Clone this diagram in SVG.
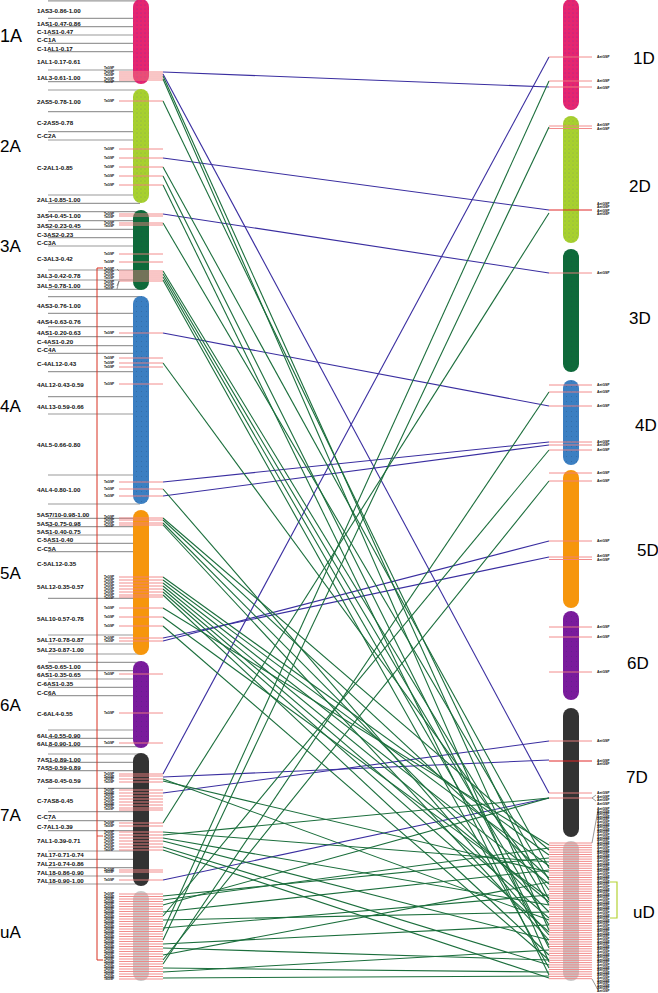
<svg xmlns="http://www.w3.org/2000/svg" width="658" height="993" viewBox="0 0 658 993">
<defs>
<style>
.seg{font-family:"Liberation Sans",Arial,sans-serif;font-size:6.2px;font-weight:bold;fill:#111}
.chr{font-family:"Liberation Sans",Arial,sans-serif;font-size:17px;fill:#000}
.tl{font-family:"Liberation Sans",Arial,sans-serif;font-size:3.2px;font-weight:bold;fill:#111}
.tr{font-family:"Liberation Sans",Arial,sans-serif;font-size:3.4px;font-weight:bold;fill:#111}
.gl{stroke:#9a9a9a;stroke-width:1.2}
.tk{stroke:#f08080;stroke-width:0.9}
.tkd{stroke:#e02828;stroke-width:1}
.b{stroke:#3a2ea0;stroke-width:1.1;fill:none}
.g{stroke:#1b6e3c;stroke-width:1.1;fill:none}
.ld{stroke:#555;stroke-width:0.6;fill:none}
</style>
<pattern id="dots" width="4" height="4" patternUnits="userSpaceOnUse"><circle cx="1" cy="1" r="0.45" fill="#3434c8"/><circle cx="3" cy="3" r="0.35" fill="#5a5ad8"/></pattern>
<pattern id="dotsd" width="5" height="5" patternUnits="userSpaceOnUse"><circle cx="1.5" cy="1.5" r="0.4" fill="#223355" opacity="0.6"/></pattern>
</defs>
<rect width="658" height="993" fill="#fff"/>

<g id="gray-lines">
<line class="gl" x1="48" x2="140" y1="0.8" y2="0.8"/><line class="gl" x1="48" x2="140" y1="18.3" y2="18.3"/><line class="gl" x1="48" x2="140" y1="26.7" y2="26.7"/><line class="gl" x1="48" x2="140" y1="35" y2="35"/><line class="gl" x1="48" x2="140" y1="43.3" y2="43.3"/><line class="gl" x1="48" x2="140" y1="51.7" y2="51.7"/><line class="gl" x1="48" x2="140" y1="70" y2="70"/><line class="gl" x1="48" x2="140" y1="81.7" y2="81.7"/><line class="gl" x1="48" x2="140" y1="90" y2="90"/><line class="gl" x1="48" x2="140" y1="111.7" y2="111.7"/><line class="gl" x1="48" x2="140" y1="131.7" y2="131.7"/><line class="gl" x1="48" x2="140" y1="140" y2="140"/><line class="gl" x1="48" x2="140" y1="195" y2="195"/><line class="gl" x1="48" x2="140" y1="203.3" y2="203.3"/><line class="gl" x1="48" x2="140" y1="211.7" y2="211.7"/><line class="gl" x1="48" x2="140" y1="220.7" y2="220.7"/><line class="gl" x1="48" x2="140" y1="229.3" y2="229.3"/><line class="gl" x1="48" x2="140" y1="237.7" y2="237.7"/><line class="gl" x1="48" x2="140" y1="246" y2="246"/><line class="gl" x1="48" x2="140" y1="270" y2="270"/><line class="gl" x1="48" x2="140" y1="280" y2="280"/><line class="gl" x1="48" x2="140" y1="289.3" y2="289.3"/><line class="gl" x1="48" x2="140" y1="296.7" y2="296.7"/><line class="gl" x1="48" x2="140" y1="313.3" y2="313.3"/><line class="gl" x1="48" x2="140" y1="326.7" y2="326.7"/><line class="gl" x1="48" x2="140" y1="336.7" y2="336.7"/><line class="gl" x1="48" x2="140" y1="345.7" y2="345.7"/><line class="gl" x1="48" x2="140" y1="353.3" y2="353.3"/><line class="gl" x1="48" x2="140" y1="371.7" y2="371.7"/><line class="gl" x1="48" x2="140" y1="396.7" y2="396.7"/><line class="gl" x1="48" x2="140" y1="414" y2="414"/><line class="gl" x1="48" x2="140" y1="475" y2="475"/><line class="gl" x1="48" x2="140" y1="504" y2="504"/><line class="gl" x1="48" x2="140" y1="518.3" y2="518.3"/><line class="gl" x1="48" x2="140" y1="526.7" y2="526.7"/><line class="gl" x1="48" x2="140" y1="535" y2="535"/><line class="gl" x1="48" x2="140" y1="543.3" y2="543.3"/><line class="gl" x1="48" x2="140" y1="551.7" y2="551.7"/><line class="gl" x1="48" x2="140" y1="598.3" y2="598.3"/><line class="gl" x1="48" x2="140" y1="635" y2="635"/><line class="gl" x1="48" x2="140" y1="644" y2="644"/><line class="gl" x1="48" x2="140" y1="654" y2="654"/><line class="gl" x1="48" x2="140" y1="662.3" y2="662.3"/><line class="gl" x1="48" x2="140" y1="670.7" y2="670.7"/><line class="gl" x1="48" x2="140" y1="679" y2="679"/><line class="gl" x1="48" x2="140" y1="687.3" y2="687.3"/><line class="gl" x1="48" x2="140" y1="695.7" y2="695.7"/><line class="gl" x1="48" x2="140" y1="730" y2="730"/><line class="gl" x1="48" x2="140" y1="738.3" y2="738.3"/><line class="gl" x1="48" x2="140" y1="746.7" y2="746.7"/><line class="gl" x1="48" x2="140" y1="754" y2="754"/><line class="gl" x1="48" x2="140" y1="762.3" y2="762.3"/><line class="gl" x1="48" x2="140" y1="770.7" y2="770.7"/><line class="gl" x1="48" x2="140" y1="788.3" y2="788.3"/><line class="gl" x1="48" x2="140" y1="811.7" y2="811.7"/><line class="gl" x1="48" x2="140" y1="820.7" y2="820.7"/><line class="gl" x1="48" x2="140" y1="830.7" y2="830.7"/><line class="gl" x1="48" x2="140" y1="851" y2="851"/><line class="gl" x1="48" x2="140" y1="859.3" y2="859.3"/><line class="gl" x1="48" x2="140" y1="867.7" y2="867.7"/><line class="gl" x1="48" x2="140" y1="876" y2="876"/><line class="gl" x1="48" x2="140" y1="884" y2="884"/>
</g>

<g id="segment-labels">
<text class="seg" x="37" y="13">1AS3-0.86-1.00</text>
<text class="seg" x="37" y="25.6">1AS1-0.47-0.86</text>
<text class="seg" x="37" y="34.3">C-1AS1-0.47</text>
<text class="seg" x="37" y="42.3">C-C1A</text>
<text class="seg" x="37" y="51.3">C-1AL1-0.17</text>
<text class="seg" x="37" y="64.3">1AL1-0.17-0.61</text>
<text class="seg" x="37" y="80">1AL3-0.61-1.00</text>
<text class="seg" x="37" y="104">2AS5-0.78-1.00</text>
<text class="seg" x="37" y="125">C-2AS5-0.78</text>
<text class="seg" x="37" y="138.3">C-C2A</text>
<text class="seg" x="37" y="170.3">C-2AL1-0.85</text>
<text class="seg" x="37" y="202.3">2AL1-0.85-1.00</text>
<text class="seg" x="37" y="218.3">3AS4-0.45-1.00</text>
<text class="seg" x="37" y="228">3AS2-0.23-0.45</text>
<text class="seg" x="37" y="236.6">C-3AS2-0.23</text>
<text class="seg" x="37" y="245">C-C3A</text>
<text class="seg" x="37" y="261.3">C-3AL3-0.42</text>
<text class="seg" x="37" y="278.3">3AL3-0.42-0.78</text>
<text class="seg" x="37" y="288.3">3AL5-0.78-1.00</text>
<text class="seg" x="37" y="308.3">4AS3-0.76-1.00</text>
<text class="seg" x="37" y="324">4AS4-0.63-0.76</text>
<text class="seg" x="37" y="335">4AS1-0.20-0.63</text>
<text class="seg" x="37" y="344">C-4AS1-0.20</text>
<text class="seg" x="37" y="352.3">C-C4A</text>
<text class="seg" x="37" y="365.6">C-4AL12-0.43</text>
<text class="seg" x="37" y="387.3">4AL12-0.43-0.59</text>
<text class="seg" x="37" y="409">4AL13-0.59-0.66</text>
<text class="seg" x="37" y="446.6">4AL5-0.66-0.80</text>
<text class="seg" x="37" y="492.3">4AL4-0.80-1.00</text>
<text class="seg" x="37" y="517.3">5AS7/10-0.98-1.00</text>
<text class="seg" x="37" y="525.6">5AS3-0.75-0.98</text>
<text class="seg" x="37" y="534">5AS1-0.40-0.75</text>
<text class="seg" x="37" y="542.3">C-5AS1-0.40</text>
<text class="seg" x="37" y="550.6">C-C5A</text>
<text class="seg" x="37" y="565.6">C-5AL12-0.35</text>
<text class="seg" x="37" y="589">5AL12-0.35-0.57</text>
<text class="seg" x="37" y="620.6">5AL10-0.57-0.78</text>
<text class="seg" x="37" y="642.3">5AL17-0.78-0.87</text>
<text class="seg" x="37" y="652.3">5AL23-0.87-1.00</text>
<text class="seg" x="37" y="669">6AS5-0.65-1.00</text>
<text class="seg" x="37" y="677.3">6AS1-0.35-0.65</text>
<text class="seg" x="37" y="685.6">C-6AS1-0.35</text>
<text class="seg" x="37" y="694.6">C-C6A</text>
<text class="seg" x="37" y="715.6">C-6AL4-0.55</text>
<text class="seg" x="37" y="738.3">6AL4-0.55-0.90</text>
<text class="seg" x="37" y="745.6">6AL8-0.90-1.00</text>
<text class="seg" x="37" y="761.6">7AS1-0.89-1.00</text>
<text class="seg" x="37" y="770">7AS5-0.59-0.89</text>
<text class="seg" x="37" y="783">7AS8-0.45-0.59</text>
<text class="seg" x="37" y="803.3">C-7AS8-0.45</text>
<text class="seg" x="37" y="819">C-C7A</text>
<text class="seg" x="37" y="829">C-7AL1-0.39</text>
<text class="seg" x="37" y="843.3">7AL1-0.39-0.71</text>
<text class="seg" x="37" y="857.3">7AL17-0.71-0.74</text>
<text class="seg" x="37" y="865.6">7AL21-0.74-0.86</text>
<text class="seg" x="37" y="874.6">7AL18-0.86-0.90</text>
<text class="seg" x="37" y="883">7AL18-0.90-1.00</text>
</g>

<g id="bracket-left">
<path d="M103,268 H97 V960 H103" fill="none" stroke="#d83020" stroke-width="1"/>
<line x1="97" x2="103" y1="836" y2="836" stroke="#d83020" stroke-width="0.8"/>
</g>

<g id="chromosome-labels">
<text class="chr" x="0" y="42" style="font-size:18px">1A</text>
<text class="chr" x="0" y="152">2A</text>
<text class="chr" x="0" y="252">3A</text>
<text class="chr" x="0" y="412">4A</text>
<text class="chr" x="0" y="579">5A</text>
<text class="chr" x="0" y="711">6A</text>
<text class="chr" x="0" y="821">7A</text>
<text class="chr" x="0" y="938">uA</text>
<text class="chr" x="633" y="64">1D</text>
<text class="chr" x="629" y="192">2D</text>
<text class="chr" x="629" y="324">3D</text>
<text class="chr" x="635" y="431">4D</text>
<text class="chr" x="637" y="556">5D</text>
<text class="chr" x="627" y="669">6D</text>
<text class="chr" x="626" y="783">7D</text>
<text class="chr" x="633" y="918">uD</text>
</g>

<g id="connectors">
<line class="b" x1="163" y1="72" x2="549" y2="87"/>
<line class="b" x1="163" y1="74" x2="549" y2="793"/>
<line class="b" x1="163" y1="158" x2="549" y2="210"/>
<line class="b" x1="163" y1="214" x2="549" y2="273"/>
<line class="b" x1="163" y1="333" x2="549" y2="406"/>
<line class="b" x1="163" y1="482" x2="549" y2="442"/>
<line class="b" x1="163" y1="496" x2="549" y2="445"/>
<line class="b" x1="163" y1="638" x2="549" y2="557"/>
<line class="b" x1="163" y1="641" x2="549" y2="541"/>
<line class="b" x1="163" y1="774" x2="549" y2="57"/>
<line class="b" x1="163" y1="777" x2="549" y2="760"/>
<line class="b" x1="163" y1="793" x2="549" y2="741"/>
<line class="b" x1="163" y1="880" x2="549" y2="798"/>
<line class="g" x1="163" y1="76" x2="549" y2="930"/>
<line class="g" x1="163" y1="79" x2="549" y2="962"/>
<line class="g" x1="163" y1="101" x2="549" y2="900"/>
<line class="g" x1="163" y1="167" x2="549" y2="868"/>
<line class="g" x1="163" y1="176" x2="549" y2="948"/>
<line class="g" x1="163" y1="185" x2="549" y2="975"/>
<line class="g" x1="163" y1="223" x2="549" y2="880"/>
<line class="g" x1="163" y1="271" x2="549" y2="905"/>
<line class="g" x1="163" y1="274" x2="549" y2="925"/>
<line class="g" x1="163" y1="277" x2="549" y2="945"/>
<line class="g" x1="163" y1="280" x2="549" y2="968"/>
<line class="g" x1="163" y1="363" x2="549" y2="890"/>
<line class="g" x1="163" y1="489" x2="549" y2="935"/>
<line class="g" x1="163" y1="518" x2="549" y2="850"/>
<line class="g" x1="163" y1="520" x2="549" y2="878"/>
<line class="g" x1="163" y1="523" x2="549" y2="912"/>
<line class="g" x1="163" y1="525" x2="549" y2="940"/>
<line class="g" x1="163" y1="577" x2="549" y2="855"/>
<line class="g" x1="163" y1="580" x2="549" y2="866"/>
<line class="g" x1="163" y1="583" x2="549" y2="884"/>
<line class="g" x1="163" y1="586" x2="549" y2="902"/>
<line class="g" x1="163" y1="589" x2="549" y2="918"/>
<line class="g" x1="163" y1="592" x2="549" y2="932"/>
<line class="g" x1="163" y1="595" x2="549" y2="955"/>
<line class="g" x1="163" y1="608" x2="549" y2="845"/>
<line class="g" x1="163" y1="617" x2="549" y2="898"/>
<line class="g" x1="163" y1="626" x2="549" y2="960"/>
<line class="g" x1="163" y1="779" x2="549" y2="920"/>
<line class="g" x1="163" y1="781" x2="549" y2="872"/>
<line class="g" x1="163" y1="823" x2="549" y2="213"/>
<line class="g" x1="163" y1="832" x2="549" y2="862"/>
<line class="g" x1="163" y1="835" x2="549" y2="798"/>
<line class="g" x1="163" y1="838" x2="549" y2="905"/>
<line class="g" x1="163" y1="841" x2="549" y2="940"/>
<line class="g" x1="163" y1="847" x2="549" y2="965"/>
<line class="g" x1="163" y1="850" x2="549" y2="978"/>
<line class="g" x1="163" y1="931" x2="549" y2="81"/>
<line class="g" x1="163" y1="940" x2="549" y2="127"/>
<line class="g" x1="163" y1="964" x2="549" y2="392"/>
<line class="g" x1="163" y1="916" x2="549" y2="450"/>
<line class="g" x1="163" y1="960" x2="549" y2="481"/>
<line class="g" x1="163" y1="896" x2="549" y2="858"/>
<line class="g" x1="163" y1="900" x2="549" y2="848"/>
<line class="g" x1="163" y1="905" x2="549" y2="798"/>
<line class="g" x1="163" y1="912" x2="549" y2="870"/>
<line class="g" x1="163" y1="920" x2="549" y2="912"/>
<line class="g" x1="163" y1="928" x2="549" y2="895"/>
<line class="g" x1="163" y1="944" x2="549" y2="925"/>
<line class="g" x1="163" y1="948" x2="549" y2="960"/>
<line class="g" x1="163" y1="955" x2="549" y2="882"/>
<line class="g" x1="163" y1="968" x2="549" y2="972"/>
<line class="g" x1="163" y1="972" x2="549" y2="950"/>
<line class="g" x1="163" y1="978" x2="549" y2="976"/>
</g>

<g id="chr-1A">
<rect x="133" y="-1" width="16" height="85" rx="8" fill="#e8246e"/><rect x="133" y="-1" width="16" height="85" rx="8" fill="url(#dots)"/>
<g class="tk"><line x1="119" x2="163" y1="72" y2="72"/><line x1="119" x2="163" y1="74" y2="74"/><line x1="119" x2="163" y1="76" y2="76"/><line x1="119" x2="163" y1="78" y2="78"/><line x1="119" x2="163" y1="80" y2="80"/></g>
<text class="tl" x="104" y="69">TaGSP</text><text class="tl" x="104" y="72.5">TaGSP</text><text class="tl" x="104" y="76">TaGSP</text><text class="tl" x="104" y="79.5">TaGSP</text><text class="tl" x="104" y="83">TaGSP</text>
</g>
<g id="chr-2A">
<rect x="133" y="89" width="16" height="114" rx="8" fill="#a8d22c"/><rect x="133" y="89" width="16" height="114" rx="8" fill="url(#dots)" opacity="0.6"/>
<g class="tk"><line x1="119" x2="163" y1="101" y2="101"/><line x1="119" x2="163" y1="149" y2="149"/><line x1="119" x2="163" y1="158" y2="158"/><line x1="119" x2="163" y1="167" y2="167"/><line x1="119" x2="163" y1="176" y2="176"/><line x1="119" x2="163" y1="185" y2="185"/></g>
<text class="tl" x="104" y="102">TaGSP</text><text class="tl" x="104" y="150">TaGSP</text><text class="tl" x="104" y="159">TaGSP</text><text class="tl" x="104" y="168">TaGSP</text><text class="tl" x="104" y="177">TaGSP</text><text class="tl" x="104" y="186">TaGSP</text>
</g>
<g id="chr-3A">
<rect x="133" y="210" width="16" height="80" rx="8" fill="#0e6a3a"/><rect x="133" y="210" width="16" height="80" rx="8" fill="url(#dotsd)"/>
<g class="tk"><line x1="119" x2="163" y1="214" y2="214"/><line x1="119" x2="163" y1="216" y2="216"/><line x1="119" x2="163" y1="223" y2="223"/><line x1="119" x2="163" y1="225" y2="225"/><line x1="119" x2="163" y1="254" y2="254"/><line x1="119" x2="163" y1="262" y2="262"/><line x1="119" x2="163" y1="271" y2="271"/><line x1="119" x2="163" y1="273" y2="273"/><line x1="119" x2="163" y1="275" y2="275"/><line x1="119" x2="163" y1="277" y2="277"/><line x1="119" x2="163" y1="279" y2="279"/><line x1="119" x2="163" y1="281" y2="281"/></g>
<text class="tl" x="104" y="215">TaGSP</text><text class="tl" x="104" y="218">TaGSP</text><text class="tl" x="104" y="224">TaGSP</text><text class="tl" x="104" y="227">TaGSP</text><text class="tl" x="104" y="255">TaGSP</text><text class="tl" x="104" y="263">TaGSP</text>
<text class="tl" x="104" y="270">TaGSP</text><text class="tl" x="104" y="273">TaGSP</text><text class="tl" x="104" y="276">TaGSP</text><text class="tl" x="104" y="279">TaGSP</text><text class="tl" x="104" y="282.5">TaGSP</text><text class="tl" x="104" y="286">TaGSP</text><text class="tl" x="104" y="289">TaGSP</text>
<path class="ld" d="M117,269 L119,271 M117,286 L119,281 M117,289 L119,281"/>
</g>
<g id="chr-4A">
<rect x="133" y="296" width="16" height="208" rx="8" fill="#3b7fc2"/><rect x="133" y="296" width="16" height="208" rx="8" fill="url(#dotsd)"/>
<g class="tk"><line x1="119" x2="163" y1="333" y2="333"/><line x1="119" x2="163" y1="358" y2="358"/><line x1="119" x2="163" y1="363" y2="363"/><line x1="119" x2="163" y1="367" y2="367"/><line x1="119" x2="163" y1="384" y2="384"/><line x1="119" x2="163" y1="482" y2="482"/><line x1="119" x2="163" y1="489" y2="489"/><line x1="119" x2="163" y1="496" y2="496"/></g>
<text class="tl" x="104" y="334">TaGSP</text><text class="tl" x="104" y="359">TaGSP</text><text class="tl" x="104" y="363.5">TaGSP</text><text class="tl" x="104" y="368">TaGSP</text><text class="tl" x="104" y="385">TaGSP</text><text class="tl" x="104" y="483">TaGSP</text><text class="tl" x="104" y="490">TaGSP</text><text class="tl" x="104" y="497">TaGSP</text>
</g>
<g id="chr-5A">
<rect x="133" y="510" width="16" height="145" rx="8" fill="#f6960c"/>
<g class="tk"><line x1="119" x2="163" y1="518" y2="518"/><line x1="119" x2="163" y1="520" y2="520"/><line x1="119" x2="163" y1="523" y2="523"/><line x1="119" x2="163" y1="525" y2="525"/><line x1="119" x2="163" y1="577" y2="577"/><line x1="119" x2="163" y1="580" y2="580"/><line x1="119" x2="163" y1="583" y2="583"/><line x1="119" x2="163" y1="586" y2="586"/><line x1="119" x2="163" y1="589" y2="589"/><line x1="119" x2="163" y1="592" y2="592"/><line x1="119" x2="163" y1="595" y2="595"/><line x1="119" x2="163" y1="597" y2="597"/><line x1="119" x2="163" y1="608" y2="608"/><line x1="119" x2="163" y1="617" y2="617"/><line x1="119" x2="163" y1="626" y2="626"/><line x1="119" x2="163" y1="638" y2="638"/><line x1="119" x2="163" y1="641" y2="641"/></g>
<text class="tl" x="104" y="518">TaGSP</text><text class="tl" x="104" y="521">TaGSP</text><text class="tl" x="104" y="524">TaGSP</text><text class="tl" x="104" y="527">TaGSP</text>
<text class="tl" x="104" y="578">TaGSP</text><text class="tl" x="104" y="581">TaGSP</text><text class="tl" x="104" y="584">TaGSP</text><text class="tl" x="104" y="587">TaGSP</text><text class="tl" x="104" y="590">TaGSP</text><text class="tl" x="104" y="593">TaGSP</text><text class="tl" x="104" y="596">TaGSP</text><text class="tl" x="104" y="599">TaGSP</text>
<text class="tl" x="104" y="609">TaGSP</text><text class="tl" x="104" y="618">TaGSP</text><text class="tl" x="104" y="627">TaGSP</text><text class="tl" x="104" y="638.5">TaGSP</text><text class="tl" x="104" y="642">TaGSP</text>
</g>
<g id="chr-6A">
<rect x="133" y="661" width="16" height="87" rx="8" fill="#7a1b9c"/><rect x="133" y="661" width="16" height="87" rx="8" fill="url(#dotsd)"/>
<g class="tk"><line x1="119" x2="163" y1="674" y2="674"/><line x1="119" x2="163" y1="713" y2="713"/><line x1="119" x2="163" y1="743" y2="743"/></g>
<text class="tl" x="104" y="675">TaGSP</text><text class="tl" x="104" y="714">TaGSP</text><text class="tl" x="104" y="744">TaGSP</text>
</g>
<g id="chr-7A">
<rect x="133" y="753" width="16" height="133" rx="8" fill="#333333"/>
<g class="tk"><line x1="119" x2="163" y1="774" y2="774"/><line x1="119" x2="163" y1="776" y2="776"/><line x1="119" x2="163" y1="779" y2="779"/><line x1="119" x2="163" y1="782" y2="782"/><line x1="119" x2="163" y1="790" y2="790"/><line x1="119" x2="163" y1="793" y2="793"/><line x1="119" x2="163" y1="796" y2="796"/><line x1="119" x2="163" y1="799" y2="799"/><line x1="119" x2="163" y1="802" y2="802"/><line x1="119" x2="163" y1="805" y2="805"/><line x1="119" x2="163" y1="808" y2="808"/><line x1="119" x2="163" y1="810" y2="810"/><line x1="119" x2="163" y1="823" y2="823"/><line x1="119" x2="163" y1="826" y2="826"/><line x1="119" x2="163" y1="832" y2="832"/><line x1="119" x2="163" y1="835" y2="835"/><line x1="119" x2="163" y1="838" y2="838"/><line x1="119" x2="163" y1="841" y2="841"/><line x1="119" x2="163" y1="844" y2="844"/><line x1="119" x2="163" y1="847" y2="847"/><line x1="119" x2="163" y1="850" y2="850"/><line x1="119" x2="163" y1="870" y2="870"/><line x1="119" x2="163" y1="872" y2="872"/><line x1="119" x2="163" y1="880" y2="880"/></g>
<text class="tl" x="104" y="775">TaGSP</text><text class="tl" x="104" y="777.5">TaGSP</text><text class="tl" x="104" y="780">TaGSP</text><text class="tl" x="104" y="782.5">TaGSP</text>
<text class="tl" x="104" y="791">TaGSP</text><text class="tl" x="104" y="793.7">TaGSP</text><text class="tl" x="104" y="796.4">TaGSP</text><text class="tl" x="104" y="799.1">TaGSP</text><text class="tl" x="104" y="801.8">TaGSP</text><text class="tl" x="104" y="804.5">TaGSP</text><text class="tl" x="104" y="807.2">TaGSP</text><text class="tl" x="104" y="810">TaGSP</text>
<text class="tl" x="104" y="824">TaGSP</text><text class="tl" x="104" y="827">TaGSP</text>
<text class="tl" x="104" y="832.5">TaGSP</text><text class="tl" x="104" y="835.5">TaGSP</text><text class="tl" x="104" y="838.5">TaGSP</text><text class="tl" x="104" y="841.5">TaGSP</text><text class="tl" x="104" y="844.5">TaGSP</text><text class="tl" x="104" y="847.5">TaGSP</text><text class="tl" x="104" y="850.5">TaGSP</text>
<text class="tl" x="104" y="870.5">TaGSP</text><text class="tl" x="104" y="873">TaGSP</text><text class="tl" x="104" y="881">TaGSP</text>
</g>
<g id="chr-uA">
<rect x="133" y="891" width="16" height="90" rx="8" fill="#c9c9c9"/>
<g class="tk"><line x1="119" x2="163" y1="894" y2="894"/><line x1="119" x2="163" y1="896.5" y2="896.5"/><line x1="119" x2="163" y1="899" y2="899"/><line x1="119" x2="163" y1="901.5" y2="901.5"/><line x1="119" x2="163" y1="904" y2="904"/><line x1="119" x2="163" y1="906.5" y2="906.5"/><line x1="119" x2="163" y1="909" y2="909"/><line x1="119" x2="163" y1="911.5" y2="911.5"/><line x1="119" x2="163" y1="914" y2="914"/><line x1="119" x2="163" y1="916.5" y2="916.5"/><line x1="119" x2="163" y1="919" y2="919"/><line x1="119" x2="163" y1="921.5" y2="921.5"/><line x1="119" x2="163" y1="924" y2="924"/><line x1="119" x2="163" y1="926.5" y2="926.5"/><line x1="119" x2="163" y1="929" y2="929"/><line x1="119" x2="163" y1="931.5" y2="931.5"/><line x1="119" x2="163" y1="934" y2="934"/><line x1="119" x2="163" y1="936.5" y2="936.5"/><line x1="119" x2="163" y1="939" y2="939"/><line x1="119" x2="163" y1="941.5" y2="941.5"/><line x1="119" x2="163" y1="944" y2="944"/><line x1="119" x2="163" y1="946.5" y2="946.5"/><line x1="119" x2="163" y1="949" y2="949"/><line x1="119" x2="163" y1="951.5" y2="951.5"/><line x1="119" x2="163" y1="954" y2="954"/><line x1="119" x2="163" y1="956.5" y2="956.5"/><line x1="119" x2="163" y1="959" y2="959"/><line x1="119" x2="163" y1="961.5" y2="961.5"/><line x1="119" x2="163" y1="964" y2="964"/><line x1="119" x2="163" y1="966.5" y2="966.5"/><line x1="119" x2="163" y1="969" y2="969"/><line x1="119" x2="163" y1="971.5" y2="971.5"/><line x1="119" x2="163" y1="974" y2="974"/><line x1="119" x2="163" y1="976.5" y2="976.5"/><line x1="119" x2="163" y1="979" y2="979"/></g>
<text class="tl" x="104" y="895">TaGSP</text><text class="tl" x="104" y="897.5">TaGSP</text><text class="tl" x="104" y="900">TaGSP</text><text class="tl" x="104" y="902.5">TaGSP</text><text class="tl" x="104" y="905">TaGSP</text><text class="tl" x="104" y="907.5">TaGSP</text><text class="tl" x="104" y="910">TaGSP</text><text class="tl" x="104" y="912.5">TaGSP</text><text class="tl" x="104" y="915">TaGSP</text><text class="tl" x="104" y="917.5">TaGSP</text><text class="tl" x="104" y="920">TaGSP</text><text class="tl" x="104" y="922.5">TaGSP</text><text class="tl" x="104" y="925">TaGSP</text><text class="tl" x="104" y="927.5">TaGSP</text><text class="tl" x="104" y="930">TaGSP</text><text class="tl" x="104" y="932.5">TaGSP</text><text class="tl" x="104" y="935">TaGSP</text><text class="tl" x="104" y="937.5">TaGSP</text><text class="tl" x="104" y="940">TaGSP</text><text class="tl" x="104" y="942.5">TaGSP</text><text class="tl" x="104" y="945">TaGSP</text><text class="tl" x="104" y="947.5">TaGSP</text><text class="tl" x="104" y="950">TaGSP</text><text class="tl" x="104" y="952.5">TaGSP</text><text class="tl" x="104" y="955">TaGSP</text><text class="tl" x="104" y="957.5">TaGSP</text><text class="tl" x="104" y="960">TaGSP</text><text class="tl" x="104" y="962.5">TaGSP</text><text class="tl" x="104" y="965">TaGSP</text><text class="tl" x="104" y="967.5">TaGSP</text><text class="tl" x="104" y="970">TaGSP</text><text class="tl" x="104" y="972.5">TaGSP</text><text class="tl" x="104" y="975">TaGSP</text><text class="tl" x="104" y="977.5">TaGSP</text><text class="tl" x="104" y="980">TaGSP</text>
</g>

<g id="chr-1D">
<rect x="563" y="-1" width="16" height="111" rx="8" fill="#e8246e"/><rect x="563" y="-1" width="16" height="111" rx="8" fill="url(#dots)"/>
<g class="tk"><line x1="549" x2="592" y1="57" y2="57"/><line x1="549" x2="592" y1="81" y2="81"/><line x1="549" x2="592" y1="87" y2="87"/></g>
<text class="tr" x="597" y="58">AetGSP</text><text class="tr" x="597" y="82">AetGSP</text><text class="tr" x="597" y="89">AetGSP</text>
</g>
<g id="chr-2D">
<rect x="563" y="116" width="16" height="127" rx="8" fill="#a8d22c"/><rect x="563" y="116" width="16" height="127" rx="8" fill="url(#dots)" opacity="0.6"/>
<g class="tk"><line x1="549" x2="592" y1="126" y2="126"/><line x1="549" x2="592" y1="128.5" y2="128.5"/></g>
<line class="tkd" x1="549" x2="592" y1="210" y2="210"/>
<text class="tr" x="597" y="126">AetGSP</text><text class="tr" x="597" y="129.5">AetGSP</text><text class="tr" x="597" y="204.5">AetGSP</text><text class="tr" x="597" y="208">AetGSP</text><text class="tr" x="597" y="211.5">AetGSP</text><text class="tr" x="597" y="215">AetGSP</text>
</g>
<g id="chr-3D">
<rect x="563" y="249" width="16" height="123" rx="8" fill="#0e6a3a"/><rect x="563" y="249" width="16" height="123" rx="8" fill="url(#dotsd)"/>
<line class="tk" x1="549" x2="592" y1="273" y2="273"/>
<text class="tr" x="597" y="274">AetGSP</text>
</g>
<g id="chr-4D">
<rect x="563" y="380" width="16" height="85" rx="8" fill="#3b7fc2"/><rect x="563" y="380" width="16" height="85" rx="8" fill="url(#dotsd)"/>
<g class="tk"><line x1="549" x2="592" y1="385" y2="385"/><line x1="549" x2="592" y1="392" y2="392"/><line x1="549" x2="592" y1="406" y2="406"/><line x1="549" x2="592" y1="442" y2="442"/><line x1="549" x2="592" y1="445" y2="445"/><line x1="549" x2="592" y1="450" y2="450"/></g>
<text class="tr" x="597" y="386">AetGSP</text><text class="tr" x="597" y="393">AetGSP</text><text class="tr" x="597" y="407">AetGSP</text><text class="tr" x="597" y="442.5">AetGSP</text><text class="tr" x="597" y="446">AetGSP</text><text class="tr" x="597" y="451">AetGSP</text>
</g>
<g id="chr-5D">
<rect x="563" y="470" width="16" height="138" rx="8" fill="#f6960c"/>
<g class="tk"><line x1="549" x2="592" y1="473" y2="473"/><line x1="549" x2="592" y1="481" y2="481"/><line x1="549" x2="592" y1="541" y2="541"/><line x1="549" x2="592" y1="557" y2="557"/><line x1="549" x2="592" y1="559.5" y2="559.5"/></g>
<text class="tr" x="597" y="474">AetGSP</text><text class="tr" x="597" y="482">AetGSP</text><text class="tr" x="597" y="542">AetGSP</text><text class="tr" x="597" y="557">AetGSP</text><text class="tr" x="597" y="560.5">AetGSP</text>
</g>
<g id="chr-6D">
<rect x="563" y="611" width="16" height="89" rx="8" fill="#7a1b9c"/><rect x="563" y="611" width="16" height="89" rx="8" fill="url(#dotsd)"/>
<g class="tk"><line x1="549" x2="592" y1="627" y2="627"/><line x1="549" x2="592" y1="637" y2="637"/><line x1="549" x2="592" y1="672" y2="672"/></g>
<text class="tr" x="597" y="628">AetGSP</text><text class="tr" x="597" y="638">AetGSP</text><text class="tr" x="597" y="673">AetGSP</text>
</g>
<g id="chr-7D">
<rect x="563" y="708" width="16" height="129" rx="8" fill="#333333"/>
<g class="tk"><line x1="549" x2="592" y1="741" y2="741"/><line x1="549" x2="592" y1="793" y2="793"/><line x1="549" x2="592" y1="798" y2="798"/></g>
<line class="tkd" x1="549" x2="592" y1="761" y2="761"/>
<text class="tr" x="597" y="742">AetGSP</text><text class="tr" x="597" y="761.5">AetGSP</text><text class="tr" x="597" y="765">AetGSP</text><text class="tr" x="597" y="793.5">AetGSP</text><text class="tr" x="597" y="797.5">AetGSP</text><text class="tr" x="597" y="801">AetGSP</text><text class="tr" x="597" y="804.5">AetGSP</text>
<path class="ld" d="M592,798 L596,795 M592,798 L596,801"/>
</g>
<g id="chr-uD">
<rect x="563" y="841" width="16" height="140" rx="8" fill="#c9c9c9"/>
<g class="tk"><line x1="549" x2="592" y1="843" y2="843"/><line x1="549" x2="592" y1="845.3" y2="845.3"/><line x1="549" x2="592" y1="847.6" y2="847.6"/><line x1="549" x2="592" y1="849.9" y2="849.9"/><line x1="549" x2="592" y1="852.2" y2="852.2"/><line x1="549" x2="592" y1="854.5" y2="854.5"/><line x1="549" x2="592" y1="856.8" y2="856.8"/><line x1="549" x2="592" y1="859.1" y2="859.1"/><line x1="549" x2="592" y1="861.4" y2="861.4"/><line x1="549" x2="592" y1="863.7" y2="863.7"/><line x1="549" x2="592" y1="866" y2="866"/><line x1="549" x2="592" y1="868.3" y2="868.3"/><line x1="549" x2="592" y1="870.6" y2="870.6"/><line x1="549" x2="592" y1="872.9" y2="872.9"/><line x1="549" x2="592" y1="875.2" y2="875.2"/><line x1="549" x2="592" y1="877.5" y2="877.5"/><line x1="549" x2="592" y1="879.8" y2="879.8"/><line x1="549" x2="592" y1="882.1" y2="882.1"/><line x1="549" x2="592" y1="884.4" y2="884.4"/><line x1="549" x2="592" y1="886.7" y2="886.7"/><line x1="549" x2="592" y1="889" y2="889"/><line x1="549" x2="592" y1="891.3" y2="891.3"/><line x1="549" x2="592" y1="893.6" y2="893.6"/><line x1="549" x2="592" y1="895.9" y2="895.9"/><line x1="549" x2="592" y1="898.2" y2="898.2"/><line x1="549" x2="592" y1="900.5" y2="900.5"/><line x1="549" x2="592" y1="902.8" y2="902.8"/><line x1="549" x2="592" y1="905.1" y2="905.1"/><line x1="549" x2="592" y1="907.4" y2="907.4"/><line x1="549" x2="592" y1="909.7" y2="909.7"/><line x1="549" x2="592" y1="912" y2="912"/><line x1="549" x2="592" y1="914.3" y2="914.3"/><line x1="549" x2="592" y1="916.6" y2="916.6"/><line x1="549" x2="592" y1="918.9" y2="918.9"/><line x1="549" x2="592" y1="921.2" y2="921.2"/><line x1="549" x2="592" y1="923.5" y2="923.5"/><line x1="549" x2="592" y1="925.8" y2="925.8"/><line x1="549" x2="592" y1="928.1" y2="928.1"/><line x1="549" x2="592" y1="930.4" y2="930.4"/><line x1="549" x2="592" y1="932.7" y2="932.7"/><line x1="549" x2="592" y1="935" y2="935"/><line x1="549" x2="592" y1="937.3" y2="937.3"/><line x1="549" x2="592" y1="939.6" y2="939.6"/><line x1="549" x2="592" y1="941.9" y2="941.9"/><line x1="549" x2="592" y1="944.2" y2="944.2"/><line x1="549" x2="592" y1="946.5" y2="946.5"/><line x1="549" x2="592" y1="948.8" y2="948.8"/><line x1="549" x2="592" y1="951.1" y2="951.1"/><line x1="549" x2="592" y1="953.4" y2="953.4"/><line x1="549" x2="592" y1="955.7" y2="955.7"/><line x1="549" x2="592" y1="958" y2="958"/><line x1="549" x2="592" y1="960.3" y2="960.3"/><line x1="549" x2="592" y1="962.6" y2="962.6"/><line x1="549" x2="592" y1="964.9" y2="964.9"/><line x1="549" x2="592" y1="967.2" y2="967.2"/><line x1="549" x2="592" y1="969.5" y2="969.5"/><line x1="549" x2="592" y1="971.8" y2="971.8"/><line x1="549" x2="592" y1="974.1" y2="974.1"/><line x1="549" x2="592" y1="976.4" y2="976.4"/><line x1="549" x2="592" y1="978.7" y2="978.7"/></g>
<path class="ld" d="M592,843 L598,810 M592,979 L598,990"/>
<path d="M610,882 H617 V918 H610" fill="none" stroke="#b5d334" stroke-width="1.2"/>
<g class="tr">
<text x="597" y="810">AetGSP</text><text x="597" y="812.6">AetGSP</text><text x="597" y="815.2">AetGSP</text><text x="597" y="817.8">AetGSP</text><text x="597" y="820.4">AetGSP</text><text x="597" y="823">AetGSP</text><text x="597" y="825.6">AetGSP</text><text x="597" y="828.2">AetGSP</text><text x="597" y="830.8">AetGSP</text><text x="597" y="833.4">AetGSP</text><text x="597" y="836">AetGSP</text><text x="597" y="838.6">AetGSP</text><text x="597" y="841.2">AetGSP</text><text x="597" y="843.8">AetGSP</text><text x="597" y="846.4">AetGSP</text><text x="597" y="849">AetGSP</text><text x="597" y="851.6">AetGSP</text><text x="597" y="854.2">AetGSP</text><text x="597" y="856.8">AetGSP</text><text x="597" y="859.4">AetGSP</text><text x="597" y="862">AetGSP</text><text x="597" y="864.6">AetGSP</text><text x="597" y="867.2">AetGSP</text><text x="597" y="869.8">AetGSP</text><text x="597" y="872.4">AetGSP</text><text x="597" y="875">AetGSP</text><text x="597" y="877.6">AetGSP</text><text x="597" y="880.2">AetGSP</text><text x="597" y="882.8">AetGSP</text><text x="597" y="885.4">AetGSP</text><text x="597" y="888">AetGSP</text><text x="597" y="890.6">AetGSP</text><text x="597" y="893.2">AetGSP</text><text x="597" y="895.8">AetGSP</text><text x="597" y="898.4">AetGSP</text><text x="597" y="901">AetGSP</text><text x="597" y="903.6">AetGSP</text><text x="597" y="906.2">AetGSP</text><text x="597" y="908.8">AetGSP</text><text x="597" y="911.4">AetGSP</text><text x="597" y="914">AetGSP</text><text x="597" y="916.6">AetGSP</text><text x="597" y="919.2">AetGSP</text><text x="597" y="921.8">AetGSP</text><text x="597" y="924.4">AetGSP</text><text x="597" y="927">AetGSP</text><text x="597" y="929.6">AetGSP</text><text x="597" y="932.2">AetGSP</text><text x="597" y="934.8">AetGSP</text><text x="597" y="937.4">AetGSP</text><text x="597" y="940">AetGSP</text><text x="597" y="942.6">AetGSP</text><text x="597" y="945.2">AetGSP</text><text x="597" y="947.8">AetGSP</text><text x="597" y="950.4">AetGSP</text><text x="597" y="953">AetGSP</text><text x="597" y="955.6">AetGSP</text><text x="597" y="958.2">AetGSP</text><text x="597" y="960.8">AetGSP</text><text x="597" y="963.4">AetGSP</text><text x="597" y="966">AetGSP</text><text x="597" y="968.6">AetGSP</text><text x="597" y="971.2">AetGSP</text><text x="597" y="973.8">AetGSP</text><text x="597" y="976.4">AetGSP</text><text x="597" y="979">AetGSP</text><text x="597" y="981.6">AetGSP</text><text x="597" y="984.2">AetGSP</text><text x="597" y="986.8">AetGSP</text><text x="597" y="989.4">AetGSP</text><text x="597" y="992">AetGSP</text>
</g>
</g>
</svg>
